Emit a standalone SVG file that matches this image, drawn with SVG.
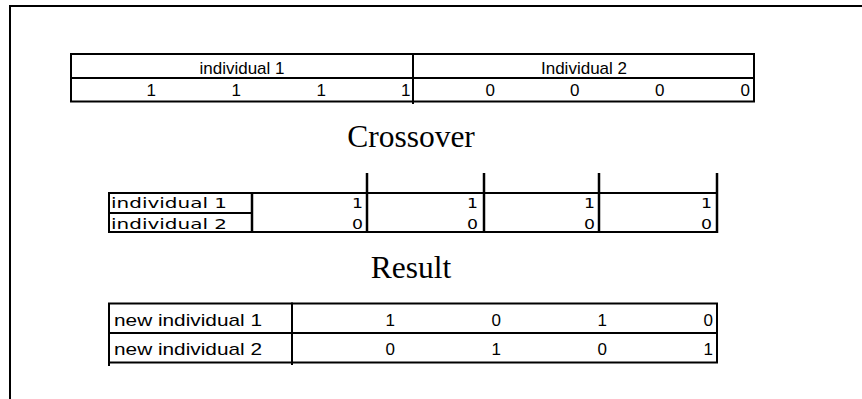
<svg xmlns="http://www.w3.org/2000/svg" width="862" height="399" viewBox="0 0 862 399">
  <style>
    .ln { stroke: #000; stroke-width: 2; fill: none; stroke-linecap: square; }
    .thk { stroke: #000; stroke-width: 2.5; fill: none; }
    .cal { font-family: "Liberation Sans", Arial, sans-serif; font-size: 17px; fill: #000; }
    .ver { font-family: "DejaVu Sans", Verdana, sans-serif; font-size: 13.5px; fill: #000; }
    .ttl { font-family: "Liberation Serif", "Times New Roman", serif; font-size: 31.5px; fill: #000; text-anchor: middle; }
    .mid { text-anchor: middle; }
    .end { text-anchor: end; }
  </style>
  <rect x="0" y="0" width="862" height="399" fill="#fff"/>

  <!-- page frame (top and left edges only) -->
  <g id="frame">
    <line class="ln" x1="10" y1="6" x2="862" y2="6"/>
    <line class="ln" x1="10" y1="6" x2="10" y2="399"/>
  </g>

  <!-- parent chromosomes -->
  <g id="parents">
    <rect class="ln" x="71" y="54" width="683" height="47.5"/>
    <line class="ln" x1="71" y1="78" x2="754" y2="78"/>
    <line class="ln" x1="413" y1="54" x2="413" y2="103"/>
    <text class="cal mid" x="242" y="74">individual 1</text>
    <text class="cal mid" x="584" y="74">Individual 2</text>
    <text class="cal end" x="156" y="96">1</text>
    <text class="cal end" x="241" y="96">1</text>
    <text class="cal end" x="326" y="96">1</text>
    <text class="cal end" x="410.5" y="96">1</text>
    <text class="cal end" x="495" y="96">0</text>
    <text class="cal end" x="579.5" y="96">0</text>
    <text class="cal end" x="664.5" y="96">0</text>
    <text class="cal end" x="750" y="96">0</text>
  </g>

  <text id="crossover-title" class="ttl" x="411" y="147">Crossover</text>

  <!-- crossover points between genes -->
  <g id="crossover">
    <line class="ln" x1="109" y1="193" x2="717" y2="193"/>
    <line class="ln" x1="109" y1="232" x2="717" y2="232"/>
    <line class="ln" x1="109" y1="193" x2="109" y2="232"/>
    <line class="ln" x1="109" y1="213" x2="252" y2="213"/>
    <line class="thk" x1="252" y1="193" x2="252" y2="233"/>
    <line class="thk" x1="367" y1="173" x2="367" y2="233"/>
    <line class="thk" x1="484" y1="173" x2="484" y2="233"/>
    <line class="thk" x1="599" y1="173" x2="599" y2="233"/>
    <line class="thk" x1="717" y1="173" x2="717" y2="233"/>
    <text class="ver" x="111" y="208" textLength="116" lengthAdjust="spacingAndGlyphs">individual 1</text>
    <text class="ver" x="111" y="228.5" textLength="116" lengthAdjust="spacingAndGlyphs">individual 2</text>
    <text class="ver end" x="363" y="208" textLength="11" lengthAdjust="spacingAndGlyphs">1</text>
    <text class="ver end" x="478" y="208" textLength="11" lengthAdjust="spacingAndGlyphs">1</text>
    <text class="ver end" x="595" y="208" textLength="11" lengthAdjust="spacingAndGlyphs">1</text>
    <text class="ver end" x="712" y="208" textLength="11" lengthAdjust="spacingAndGlyphs">1</text>
    <text class="ver end" x="363" y="228.5" textLength="11" lengthAdjust="spacingAndGlyphs">0</text>
    <text class="ver end" x="478" y="228.5" textLength="11" lengthAdjust="spacingAndGlyphs">0</text>
    <text class="ver end" x="595" y="228.5" textLength="11" lengthAdjust="spacingAndGlyphs">0</text>
    <text class="ver end" x="712" y="228.5" textLength="11" lengthAdjust="spacingAndGlyphs">0</text>
  </g>

  <text id="result-title" class="ttl" x="411" y="278">Result</text>

  <!-- offspring -->
  <g id="result">
    <rect class="ln" x="109" y="303.5" width="608" height="59"/>
    <line class="ln" x1="109" y1="333" x2="717" y2="333"/>
    <line class="ln" x1="292" y1="303.5" x2="292" y2="364"/>
    <line class="ln" x1="109" y1="362.5" x2="109" y2="365"/>
    <text class="cal" x="114" y="326" textLength="148" lengthAdjust="spacingAndGlyphs">new individual 1</text>
    <text class="cal" x="114" y="355" textLength="148" lengthAdjust="spacingAndGlyphs">new individual 2</text>
    <text class="cal end" x="395" y="326">1</text>
    <text class="cal end" x="501" y="326">0</text>
    <text class="cal end" x="607" y="326">1</text>
    <text class="cal end" x="713" y="326">0</text>
    <text class="cal end" x="395" y="355">0</text>
    <text class="cal end" x="501" y="355">1</text>
    <text class="cal end" x="607" y="355">0</text>
    <text class="cal end" x="713" y="355">1</text>
  </g>
</svg>
